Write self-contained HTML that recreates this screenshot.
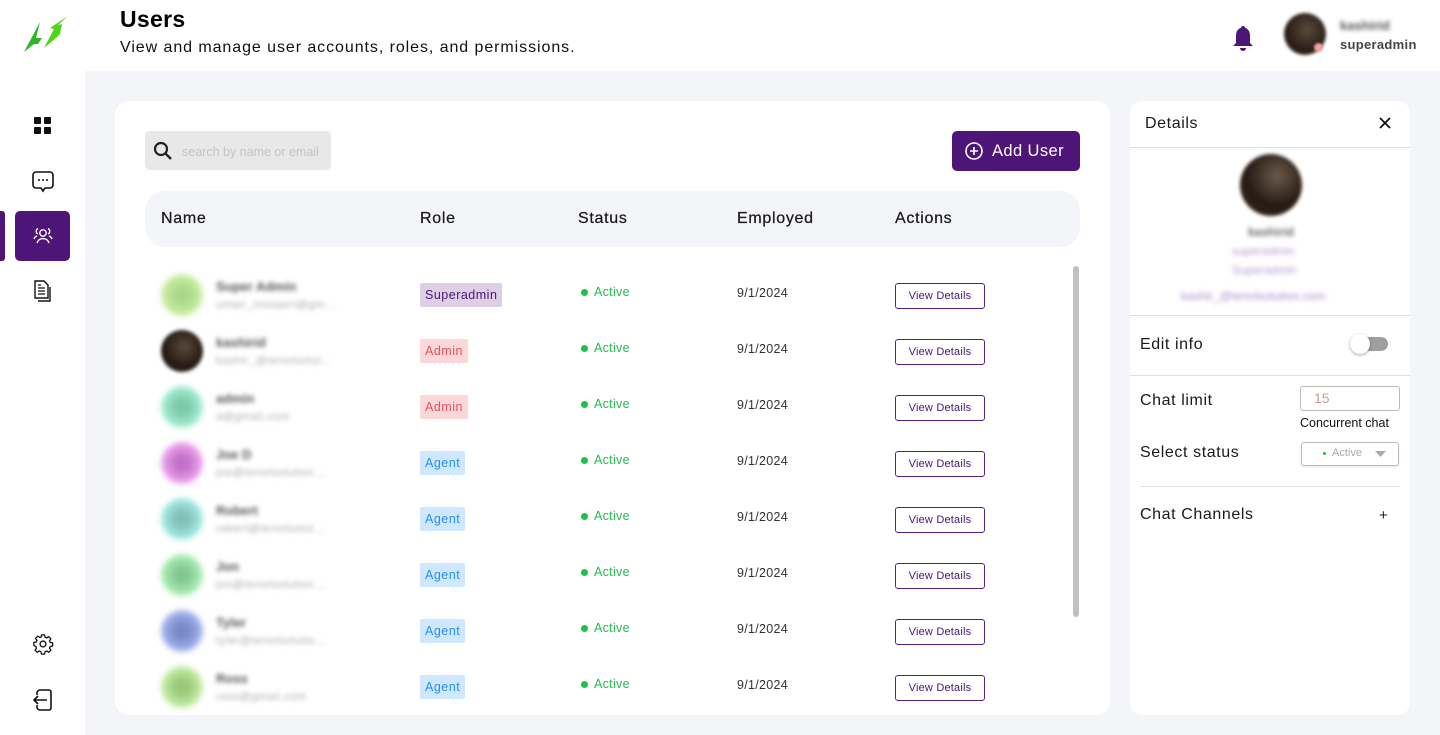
<!DOCTYPE html>
<html><head><meta charset="utf-8"><style>
*{box-sizing:border-box;margin:0;padding:0}
body{width:1440px;height:735px;overflow:hidden;background:#f4f5f9;font-family:"Liberation Sans",sans-serif;color:#111;position:relative}
.abs{position:absolute}
.hdr{left:0;top:0;width:1440px;height:71px;background:#fff}
.side{left:0;top:0;width:85px;height:735px;background:#fff}
.card{left:115px;top:101px;width:995px;height:614px;background:#fff;border-radius:14px}
.panel{left:1130px;top:101px;width:280px;height:614px;background:#fff;border-radius:12px}
.th{font-size:16px;color:#1a1a1a;top:210px;letter-spacing:.7px;-webkit-text-stroke:.25px #1a1a1a}
.av{width:42px;height:42px;border-radius:50%;filter:blur(3px)}
.bl{filter:blur(2.4px);color:#555;white-space:nowrap;font-weight:bold}
.em{filter:blur(2.4px);color:#aaa;white-space:nowrap;font-size:11px;letter-spacing:.6px}
.badge{height:24px;line-height:24px;font-size:12.5px;padding:0 5px;border-radius:2px;letter-spacing:.5px}
.st{font-size:12.5px;color:#1fbf4a;letter-spacing:.3px}
.dot{width:7px;height:7px;border-radius:50%;background:#1fbf4a}
.dt{font-size:12.5px;color:#333;letter-spacing:.3px}
.vd{width:90px;height:26px;border:1px solid #5a2383;border-radius:3px;font-size:11px;color:#4d1577;text-align:center;line-height:24px;letter-spacing:.2px}
.pl{font-size:16px;color:#1a1a1a;letter-spacing:.6px}
</style></head><body>
<div class="abs hdr"></div>
<div class="abs side"></div>
<!-- logo -->
<svg class="abs" style="left:20px;top:14px" width="52" height="42" viewBox="0 0 52 42">
<polygon points="20,8 4,38 14,30 18,30 22,24 16,24" fill="#2fb52a"/>
<polygon points="48,2 30,14 34,15 24,34 36,24 40,20 42,10 38,11" fill="#4fd61a"/>
</svg>
<div class="abs" style="left:120px;top:6px;font-size:23px;font-weight:bold;color:#000;letter-spacing:.3px">Users</div>
<div class="abs" style="left:120px;top:39px;font-size:16px;color:#111;letter-spacing:.93px">View and manage user accounts, roles, and permissions.</div>
<!-- bell -->
<svg class="abs" style="left:1231px;top:25px" width="24" height="27" viewBox="0 0 24 27"><path d="M12 1c-1.2 0-2 .8-2 1.8C6.5 4 5 7 5 11v7l-3 3h20l-3-3v-7c0-4-1.5-7-5-8.2C14 1.8 13.2 1 12 1z" fill="#4d1577"/><path d="M9 23a3 3 0 0 0 6 0z" fill="#4d1577"/></svg>
<div class="abs" style="left:1284px;top:13px;width:42px;height:42px;border-radius:50%;background:radial-gradient(circle at 55% 40%,#5a4a3a,#2a1d16 60%,#3d3026);filter:blur(1.5px)"></div>
<div class="abs" style="left:1314px;top:43px;width:9px;height:9px;border-radius:50%;background:#f4a0a0;filter:blur(1px)"></div>
<div class="abs bl" style="left:1340px;top:18px;font-size:13px;color:#555;filter:blur(2px)">kashirid</div>
<div class="abs" style="left:1340px;top:37px;font-size:13px;color:#444;font-weight:bold;letter-spacing:.3px">superadmin</div>
<!-- sidebar icons -->
<svg class="abs" style="left:34px;top:117px" width="18" height="18"><rect x="0" y="0" width="7" height="7" rx="1" fill="#111"/><rect x="10" y="0" width="7" height="7" rx="1" fill="#111"/><rect x="0" y="10" width="7" height="7" rx="1" fill="#111"/><rect x="10" y="10" width="7" height="7" rx="1" fill="#111"/></svg>
<svg class="abs" style="left:31px;top:170px" width="24" height="24" viewBox="0 0 24 24"><path d="M5 2h14a3 3 0 0 1 3 3v10a3 3 0 0 1-3 3h-5l-2 3-2-3H5a3 3 0 0 1-3-3V5a3 3 0 0 1 3-3z" fill="none" stroke="#111" stroke-width="1.6"/><circle cx="8" cy="10" r="1" fill="#111"/><circle cx="12" cy="10" r="1" fill="#111"/><circle cx="16" cy="10" r="1" fill="#111"/></svg>
<div class="abs" style="left:0;top:211px;width:5px;height:50px;background:#4d1577;border-radius:0 3px 3px 0"></div>
<div class="abs" style="left:15px;top:211px;width:55px;height:50px;background:#4d1577;border-radius:5px"></div>
<svg class="abs" style="left:32px;top:225px" width="22" height="22" viewBox="0 0 22 22"><circle cx="11" cy="8" r="3.2" fill="none" stroke="#fff" stroke-width="1.4"/><path d="M5 18c1-3 3.5-4.5 6-4.5s5 1.5 6 4.5" fill="none" stroke="#fff" stroke-width="1.4"/><path d="M6 3.5a3 3 0 0 0 0 5.5M16 3.5a3 3 0 0 1 0 5.5M2 14c.5-1.5 1.5-2.5 3-3M20 14c-.5-1.5-1.5-2.5-3-3" fill="none" stroke="#fff" stroke-width="1.3"/></svg>
<svg class="abs" style="left:33px;top:280px" width="20" height="22" viewBox="0 0 20 22"><path d="M2 1h9l4 4v13H2z" fill="#fff" stroke="#111" stroke-width="1.4"/><path d="M5 8h7M5 11h7M5 14h7M5 5h3" stroke="#111" stroke-width="1.2"/><path d="M17 7v14H5" fill="none" stroke="#111" stroke-width="1.4"/></svg>
<svg class="abs" style="left:32px;top:633px" width="22" height="22" viewBox="0 0 24 24"><circle cx="12" cy="12" r="3.2" fill="none" stroke="#111" stroke-width="1.5"/><path d="M10.3 2h3.4l.5 2.6 1.8.8 2.2-1.5 2.4 2.4-1.5 2.2.8 1.8 2.6.5v3.4l-2.6.5-.8 1.8 1.5 2.2-2.4 2.4-2.2-1.5-1.8.8-.5 2.6h-3.4l-.5-2.6-1.8-.8-2.2 1.5-2.4-2.4 1.5-2.2-.8-1.8L2 13.7v-3.4l2.6-.5.8-1.8-1.5-2.2 2.4-2.4 2.2 1.5 1.8-.8z" fill="none" stroke="#111" stroke-width="1.4" stroke-linejoin="round"/></svg>
<svg class="abs" style="left:32px;top:688px" width="22" height="24" viewBox="0 0 22 24"><path d="M8 2h9a2 2 0 0 1 2 2v16a2 2 0 0 1-2 2H8M8 2a3 3 0 0 0-3 3v2M8 22a3 3 0 0 1-3-3v-2" fill="none" stroke="#111" stroke-width="1.6"/><path d="M15 12H2M6 8l-4 4 4 4" fill="none" stroke="#111" stroke-width="1.6"/></svg>

<!-- main card -->
<div class="abs card"></div>
<div class="abs" style="left:145px;top:131px;width:186px;height:39px;background:#e8e8e8;border-radius:5px"></div>
<svg class="abs" style="left:153px;top:141px" width="20" height="20" viewBox="0 0 20 20"><circle cx="8" cy="8" r="6" fill="none" stroke="#222" stroke-width="2.2"/><path d="M12.5 12.5l5.5 5.5" stroke="#222" stroke-width="2.4"/></svg>
<div class="abs" style="left:182px;top:145px;font-size:12.5px;color:#c4c4c4;width:140px;overflow:hidden;white-space:nowrap">search by name or email</div>
<div class="abs" style="left:952px;top:131px;width:128px;height:40px;background:#4d1577;border-radius:5px"></div>
<svg class="abs" style="left:964px;top:141px" width="20" height="20" viewBox="0 0 20 20"><circle cx="10" cy="10" r="8" fill="none" stroke="#fff" stroke-width="1.6"/><path d="M10 6v8M6 10h8" stroke="#fff" stroke-width="1.6"/></svg>
<div class="abs" style="left:992px;top:142px;font-size:16.5px;color:#fff;letter-spacing:.4px">Add User</div>
<div class="abs" style="left:145px;top:191px;width:935px;height:56px;background:#f4f5f9;border-radius:20px"></div>
<div class="abs th" style="left:161px">Name</div>
<div class="abs th" style="left:420px">Role</div>
<div class="abs th" style="left:578px">Status</div>
<div class="abs th" style="left:737px">Employed</div>
<div class="abs th" style="left:895px">Actions</div>
<div class="abs" style="left:1073px;top:266px;width:6px;height:351px;background:#c1c1c1;border-radius:3px"></div>

<!-- rows -->
<div class="abs av" style="left:161px;top:274px;background:radial-gradient(circle,#a8d888 20%,#cdf0a8 70%)"></div>
<div class="abs bl" style="left:216px;top:279px;font-size:13px">Super Admin</div>
<div class="abs em" style="left:216px;top:299px">umair_mosaeri@gm...</div>
<div class="abs badge" style="left:420px;top:283px;background:#dccfe6;color:#4d1577">Superadmin</div>
<div class="abs dot" style="left:581px;top:289px"></div><div class="abs st" style="left:594px;top:285px">Active</div>
<div class="abs dt" style="left:737px;top:286px">9/1/2024</div>
<div class="abs vd" style="left:895px;top:283px">View Details</div>

<div class="abs av" style="left:161px;top:330px;background:radial-gradient(circle at 55% 40%,#5a4a3a,#241812 60%,#3a2c22);filter:blur(1.8px)"></div>
<div class="abs bl" style="left:216px;top:335px;font-size:13px">kashirid</div>
<div class="abs em" style="left:216px;top:355px">kashir_@teriolsolut...</div>
<div class="abs badge" style="left:420px;top:339px;background:#fbd7da;color:#e8505b">Admin</div>
<div class="abs dot" style="left:581px;top:345px"></div><div class="abs st" style="left:594px;top:341px">Active</div>
<div class="abs dt" style="left:737px;top:342px">9/1/2024</div>
<div class="abs vd" style="left:895px;top:339px">View Details</div>

<div class="abs av" style="left:161px;top:386px;background:radial-gradient(circle,#7cc8a8 20%,#a8f0d8 70%)"></div>
<div class="abs bl" style="left:216px;top:391px;font-size:13px">admin</div>
<div class="abs em" style="left:216px;top:411px">a@gmail.com</div>
<div class="abs badge" style="left:420px;top:395px;background:#fbd7da;color:#e8505b">Admin</div>
<div class="abs dot" style="left:581px;top:401px"></div><div class="abs st" style="left:594px;top:397px">Active</div>
<div class="abs dt" style="left:737px;top:398px">9/1/2024</div>
<div class="abs vd" style="left:895px;top:395px">View Details</div>

<div class="abs av" style="left:161px;top:442px;background:radial-gradient(circle,#c070c8 20%,#f0a8f0 70%)"></div>
<div class="abs bl" style="left:216px;top:447px;font-size:13px">Joe D</div>
<div class="abs em" style="left:216px;top:467px">joe@teriolsolution...</div>
<div class="abs badge" style="left:420px;top:451px;background:#cfe8ff;color:#1e90ff">Agent</div>
<div class="abs dot" style="left:581px;top:457px"></div><div class="abs st" style="left:594px;top:453px">Active</div>
<div class="abs dt" style="left:737px;top:454px">9/1/2024</div>
<div class="abs vd" style="left:895px;top:451px">View Details</div>

<div class="abs av" style="left:161px;top:498px;background:radial-gradient(circle,#80c0b8 20%,#a8ece8 70%)"></div>
<div class="abs bl" style="left:216px;top:503px;font-size:13px">Robert</div>
<div class="abs em" style="left:216px;top:523px">robert@teriolsolut...</div>
<div class="abs badge" style="left:420px;top:507px;background:#cfe8ff;color:#1e90ff">Agent</div>
<div class="abs dot" style="left:581px;top:513px"></div><div class="abs st" style="left:594px;top:509px">Active</div>
<div class="abs dt" style="left:737px;top:510px">9/1/2024</div>
<div class="abs vd" style="left:895px;top:507px">View Details</div>

<div class="abs av" style="left:161px;top:554px;background:radial-gradient(circle,#80c890 20%,#b0f0b8 70%)"></div>
<div class="abs bl" style="left:216px;top:559px;font-size:13px">Jon</div>
<div class="abs em" style="left:216px;top:579px">jon@teriolsolution...</div>
<div class="abs badge" style="left:420px;top:563px;background:#cfe8ff;color:#1e90ff">Agent</div>
<div class="abs dot" style="left:581px;top:569px"></div><div class="abs st" style="left:594px;top:565px">Active</div>
<div class="abs dt" style="left:737px;top:566px">9/1/2024</div>
<div class="abs vd" style="left:895px;top:563px">View Details</div>

<div class="abs av" style="left:161px;top:610px;background:radial-gradient(circle,#7888c8 20%,#a8b8f0 70%)"></div>
<div class="abs bl" style="left:216px;top:615px;font-size:13px">Tyler</div>
<div class="abs em" style="left:216px;top:635px">tyler@teriolsolutio...</div>
<div class="abs badge" style="left:420px;top:619px;background:#cfe8ff;color:#1e90ff">Agent</div>
<div class="abs dot" style="left:581px;top:625px"></div><div class="abs st" style="left:594px;top:621px">Active</div>
<div class="abs dt" style="left:737px;top:622px">9/1/2024</div>
<div class="abs vd" style="left:895px;top:619px">View Details</div>

<div class="abs av" style="left:161px;top:666px;background:radial-gradient(circle,#98c878 20%,#c8f0a8 70%)"></div>
<div class="abs bl" style="left:216px;top:671px;font-size:13px">Ross</div>
<div class="abs em" style="left:216px;top:691px">ross@gmail.com</div>
<div class="abs badge" style="left:420px;top:675px;background:#cfe8ff;color:#1e90ff">Agent</div>
<div class="abs dot" style="left:581px;top:681px"></div><div class="abs st" style="left:594px;top:677px">Active</div>
<div class="abs dt" style="left:737px;top:678px">9/1/2024</div>
<div class="abs vd" style="left:895px;top:675px">View Details</div>

<!-- right panel -->
<div class="abs panel"></div>
<div class="abs pl" style="left:1145px;top:115px">Details</div>
<svg class="abs" style="left:1379px;top:117px" width="12" height="12"><path d="M1 1l10 10M11 1L1 11" stroke="#111" stroke-width="1.8"/></svg>
<div class="abs" style="left:1130px;top:147px;width:280px;height:1px;background:#e0e0e0"></div>
<div class="abs" style="left:1240px;top:154px;width:62px;height:62px;border-radius:50%;background:radial-gradient(circle at 60% 35%,#6a5a4a,#261a14 55%,#3a2c22);filter:blur(1.8px)"></div>
<div class="abs bl" style="left:1240px;top:225px;font-size:12px;color:#666;width:62px;text-align:center">kashirid</div>
<div class="abs bl" style="left:1232px;top:244px;font-size:12px;color:#b59cd0;font-weight:normal">superadmin</div>
<div class="abs bl" style="left:1232px;top:263px;font-size:12px;color:#b59cd0;font-weight:normal">Superadmin</div>
<div class="abs bl" style="left:1181px;top:289px;font-size:12px;color:#a88cc8;font-weight:normal">kashir_@teriolsolution.com</div>
<div class="abs" style="left:1130px;top:315px;width:280px;height:1px;background:#e0e0e0"></div>
<div class="abs pl" style="left:1140px;top:336px">Edit info</div>
<div class="abs" style="left:1354px;top:337px;width:34px;height:14px;border-radius:7px;background:#9e9e9e"></div>
<div class="abs" style="left:1350px;top:334px;width:20px;height:20px;border-radius:50%;background:#fff;box-shadow:0 1px 3px rgba(0,0,0,.35)"></div>
<div class="abs" style="left:1130px;top:375px;width:280px;height:1px;background:#e0e0e0"></div>
<div class="abs pl" style="left:1140px;top:392px">Chat limit</div>
<div class="abs" style="left:1300px;top:386px;width:100px;height:25px;border:1px solid #bbb;border-radius:3px"></div>
<div class="abs" style="left:1314px;top:390px;font-size:14px;color:#d49a9a">15</div>
<div class="abs" style="left:1300px;top:416px;font-size:12.5px;color:#111">Concurrent chat</div>
<div class="abs pl" style="left:1140px;top:444px">Select status</div>
<div class="abs" style="left:1301px;top:442px;width:98px;height:24px;border:1px solid #bbb;border-radius:3px;box-shadow:0 1px 2px rgba(0,0,0,.1)"></div>
<div class="abs" style="left:1323px;top:452px;width:3px;height:3px;border-radius:50%;background:#1fbf4a"></div>
<div class="abs" style="left:1332px;top:447px;font-size:11px;color:#aaa">Active</div>
<svg class="abs" style="left:1375px;top:451px" width="11" height="6"><path d="M0 0h11L5.5 6z" fill="#aaa"/></svg>
<div class="abs" style="left:1140px;top:486px;width:260px;height:1px;background:#e0e0e0"></div>
<div class="abs pl" style="left:1140px;top:506px">Chat Channels</div>
<div class="abs" style="left:1379px;top:507px;font-size:15px;color:#222">+</div>
</body></html>
